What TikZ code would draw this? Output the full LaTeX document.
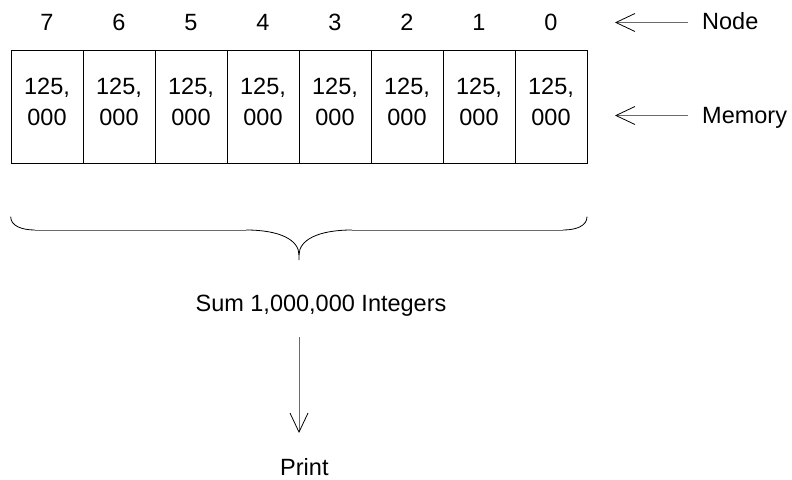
\documentclass[tikz,border=0pt]{standalone}
\usepackage{fontspec}
\setmainfont{Liberation Sans}
\usetikzlibrary{arrows.meta}
\definecolor{shaft}{gray}{0.42}
\begin{document}
\begin{tikzpicture}[x=1pt,y=-1pt,
  lbl/.style={font=\fontsize{23.5}{31}\selectfont, inner sep=0pt, anchor=base},
  cell/.style={draw=black, line width=0.8pt, minimum width=72pt, minimum height=113pt, anchor=north west, inner sep=0pt},
  garrow/.style={draw=shaft, line width=1pt, -{Straight Barb[length=19pt,width=18pt,black,line width=0.8pt]}},
  bracecurve/.style={draw=black, line width=0.8pt},
  braceline/.style={draw=shaft, line width=1pt},
]
\useasboundingbox (0,0) rectangle (792,479);
\foreach \i in {0,...,7}{
  \pgfmathsetmacro{\cx}{11+72*(7-\i)}
  \node[cell] (c\i) at (\cx,50) {};
  \node[lbl] (n\i) at (\cx+36,30) {\i};
  \node[lbl] (ta\i) at (\cx+36,94) {125,};
  \node[lbl] (tb\i) at (\cx+36,125) {000};
}
\node[lbl, anchor=base west] (nodelbl) at (702,29.5) {Node};
\node[lbl, anchor=base west] (memlbl) at (702,123.5) {Memory};
\coordinate (nfrom) at (688,22.5);
\coordinate (nto) at (615,22.5);
\coordinate (mfrom) at (688,115.5);
\coordinate (mto) at (615,115.5);
\draw[garrow] (nfrom) -- (nto);
\draw[garrow] (mfrom) -- (mto);
% brace
\coordinate (bl) at (10.7,216.7);
\coordinate (bl2) at (35,230);
\coordinate (bm1) at (246,230);
\coordinate (bt) at (299,255);
\coordinate (btip) at (299,260);
\coordinate (bm2) at (352,230);
\coordinate (br2) at (563,230);
\coordinate (br) at (587,216.7);
\draw[bracecurve] (bl) .. controls (10.7,226) and (22,230) .. (bl2);
\draw[braceline] (bl2) -- (bm1);
\draw[bracecurve] (bm1) .. controls (280,230) and (299,240) .. (bt) -- (btip);
\draw[bracecurve] (bt) .. controls (299,240) and (318,230) .. (bm2);
\draw[braceline] (bm2) -- (br2);
\draw[bracecurve] (br2) .. controls (576,230) and (587,226) .. (br);
\node[lbl] (sum) at (321,311) {Sum 1,000,000 Integers};
\node[lbl] (print) at (304.4,475) {Print};
\coordinate (afrom) at (299,337);
\coordinate (ato) at (299,433);
\draw[garrow] (afrom) -- (ato);
\end{tikzpicture}
\end{document}
